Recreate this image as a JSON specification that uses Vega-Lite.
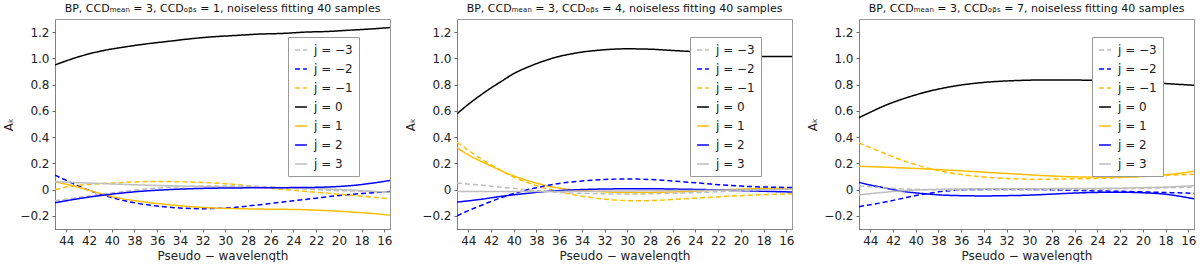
{
"$schema": "https://vega.github.io/schema/vega-lite/v6.json",
"padding": {"left": 2, "top": 2, "right": 4, "bottom": 0},
"spacing": 67,
"bounds": "flush",
"datasets": {
"d": [
{"p":1,"j":"j = 0","x":45,"y":0.95},{"p":1,"j":"j = 0","x":43,"y":1.01},{"p":1,"j":"j = 0","x":41,"y":1.055},{"p":1,"j":"j = 0","x":39,"y":1.085},{"p":1,"j":"j = 0","x":37,"y":1.11},{"p":1,"j":"j = 0","x":35,"y":1.13},{"p":1,"j":"j = 0","x":33,"y":1.15},{"p":1,"j":"j = 0","x":31,"y":1.165},{"p":1,"j":"j = 0","x":29,"y":1.175},{"p":1,"j":"j = 0","x":27,"y":1.185},{"p":1,"j":"j = 0","x":25,"y":1.19},{"p":1,"j":"j = 0","x":23,"y":1.2},{"p":1,"j":"j = 0","x":21,"y":1.205},{"p":1,"j":"j = 0","x":19,"y":1.215},{"p":1,"j":"j = 0","x":17,"y":1.225},{"p":1,"j":"j = 0","x":15.5,"y":1.235},
{"p":1,"j":"j = −2","x":45,"y":0.11},{"p":1,"j":"j = −2","x":44,"y":0.07},{"p":1,"j":"j = −2","x":43,"y":0.03},{"p":1,"j":"j = −2","x":42,"y":-0.005},{"p":1,"j":"j = −2","x":41,"y":-0.035},{"p":1,"j":"j = −2","x":40,"y":-0.06},{"p":1,"j":"j = −2","x":38,"y":-0.1},{"p":1,"j":"j = −2","x":36,"y":-0.125},{"p":1,"j":"j = −2","x":34,"y":-0.14},{"p":1,"j":"j = −2","x":32,"y":-0.145},{"p":1,"j":"j = −2","x":30,"y":-0.14},{"p":1,"j":"j = −2","x":28,"y":-0.125},{"p":1,"j":"j = −2","x":26,"y":-0.105},{"p":1,"j":"j = −2","x":24,"y":-0.085},{"p":1,"j":"j = −2","x":22,"y":-0.065},{"p":1,"j":"j = −2","x":20,"y":-0.045},{"p":1,"j":"j = −2","x":18,"y":-0.03},{"p":1,"j":"j = −2","x":15.5,"y":-0.015},
{"p":1,"j":"j = 1","x":45,"y":0.06},{"p":1,"j":"j = 1","x":43,"y":0.02},{"p":1,"j":"j = 1","x":41,"y":-0.03},{"p":1,"j":"j = 1","x":39,"y":-0.07},{"p":1,"j":"j = 1","x":37,"y":-0.095},{"p":1,"j":"j = 1","x":35,"y":-0.115},{"p":1,"j":"j = 1","x":33,"y":-0.13},{"p":1,"j":"j = 1","x":31,"y":-0.14},{"p":1,"j":"j = 1","x":29,"y":-0.145},{"p":1,"j":"j = 1","x":27,"y":-0.148},{"p":1,"j":"j = 1","x":25,"y":-0.15},{"p":1,"j":"j = 1","x":23,"y":-0.153},{"p":1,"j":"j = 1","x":21,"y":-0.16},{"p":1,"j":"j = 1","x":19,"y":-0.17},{"p":1,"j":"j = 1","x":17,"y":-0.182},{"p":1,"j":"j = 1","x":15.5,"y":-0.195},
{"p":1,"j":"j = −1","x":45,"y":0.0},{"p":1,"j":"j = −1","x":44,"y":0.02},{"p":1,"j":"j = −1","x":42,"y":0.04},{"p":1,"j":"j = −1","x":40,"y":0.05},{"p":1,"j":"j = −1","x":38,"y":0.058},{"p":1,"j":"j = −1","x":36,"y":0.062},{"p":1,"j":"j = −1","x":34,"y":0.06},{"p":1,"j":"j = −1","x":32,"y":0.055},{"p":1,"j":"j = −1","x":30,"y":0.045},{"p":1,"j":"j = −1","x":28,"y":0.03},{"p":1,"j":"j = −1","x":26,"y":0.01},{"p":1,"j":"j = −1","x":24,"y":-0.005},{"p":1,"j":"j = −1","x":22,"y":-0.02},{"p":1,"j":"j = −1","x":20,"y":-0.035},{"p":1,"j":"j = −1","x":18,"y":-0.05},{"p":1,"j":"j = −1","x":15.5,"y":-0.07},
{"p":1,"j":"j = −3","x":45,"y":-0.085},{"p":1,"j":"j = −3","x":43,"y":-0.06},{"p":1,"j":"j = −3","x":41,"y":-0.035},{"p":1,"j":"j = −3","x":39,"y":-0.015},{"p":1,"j":"j = −3","x":37,"y":0.005},{"p":1,"j":"j = −3","x":35,"y":0.018},{"p":1,"j":"j = −3","x":33,"y":0.025},{"p":1,"j":"j = −3","x":31,"y":0.028},{"p":1,"j":"j = −3","x":29,"y":0.028},{"p":1,"j":"j = −3","x":27,"y":0.025},{"p":1,"j":"j = −3","x":25,"y":0.015},{"p":1,"j":"j = −3","x":23,"y":0.005},{"p":1,"j":"j = −3","x":21,"y":-0.005},{"p":1,"j":"j = −3","x":19,"y":-0.01},{"p":1,"j":"j = −3","x":17,"y":-0.015},{"p":1,"j":"j = −3","x":15.5,"y":-0.02},
{"p":1,"j":"j = 3","x":45,"y":0.06},{"p":1,"j":"j = 3","x":42,"y":0.05},{"p":1,"j":"j = 3","x":39,"y":0.04},{"p":1,"j":"j = 3","x":36,"y":0.032},{"p":1,"j":"j = 3","x":33,"y":0.025},{"p":1,"j":"j = 3","x":30,"y":0.02},{"p":1,"j":"j = 3","x":27,"y":0.017},{"p":1,"j":"j = 3","x":24,"y":0.013},{"p":1,"j":"j = 3","x":21,"y":0.005},{"p":1,"j":"j = 3","x":18,"y":-0.008},{"p":1,"j":"j = 3","x":15.5,"y":-0.02},
{"p":1,"j":"j = 2","x":45,"y":-0.1},{"p":1,"j":"j = 2","x":43,"y":-0.07},{"p":1,"j":"j = 2","x":41,"y":-0.045},{"p":1,"j":"j = 2","x":39,"y":-0.025},{"p":1,"j":"j = 2","x":37,"y":-0.01},{"p":1,"j":"j = 2","x":35,"y":0.0},{"p":1,"j":"j = 2","x":33,"y":0.007},{"p":1,"j":"j = 2","x":31,"y":0.011},{"p":1,"j":"j = 2","x":29,"y":0.013},{"p":1,"j":"j = 2","x":27,"y":0.014},{"p":1,"j":"j = 2","x":25,"y":0.015},{"p":1,"j":"j = 2","x":23,"y":0.016},{"p":1,"j":"j = 2","x":21,"y":0.02},{"p":1,"j":"j = 2","x":19,"y":0.03},{"p":1,"j":"j = 2","x":17,"y":0.05},{"p":1,"j":"j = 2","x":15.5,"y":0.07},

{"p":2,"j":"j = 0","x":45,"y":0.578},{"p":2,"j":"j = 0","x":44,"y":0.65},{"p":2,"j":"j = 0","x":43,"y":0.715},{"p":2,"j":"j = 0","x":42,"y":0.775},{"p":2,"j":"j = 0","x":41,"y":0.83},{"p":2,"j":"j = 0","x":40,"y":0.884},{"p":2,"j":"j = 0","x":39,"y":0.925},{"p":2,"j":"j = 0","x":38,"y":0.96},{"p":2,"j":"j = 0","x":37,"y":0.99},{"p":2,"j":"j = 0","x":36,"y":1.015},{"p":2,"j":"j = 0","x":35,"y":1.033},{"p":2,"j":"j = 0","x":34,"y":1.048},{"p":2,"j":"j = 0","x":33,"y":1.058},{"p":2,"j":"j = 0","x":32,"y":1.066},{"p":2,"j":"j = 0","x":31,"y":1.071},{"p":2,"j":"j = 0","x":30,"y":1.073},{"p":2,"j":"j = 0","x":29,"y":1.072},{"p":2,"j":"j = 0","x":28,"y":1.07},{"p":2,"j":"j = 0","x":26,"y":1.06},{"p":2,"j":"j = 0","x":24,"y":1.05},{"p":2,"j":"j = 0","x":22,"y":1.035},{"p":2,"j":"j = 0","x":20,"y":1.023},{"p":2,"j":"j = 0","x":18,"y":1.015},{"p":2,"j":"j = 0","x":15.5,"y":1.015},
{"p":2,"j":"j = 1","x":45,"y":0.32},{"p":2,"j":"j = 1","x":44,"y":0.265},{"p":2,"j":"j = 1","x":43,"y":0.22},{"p":2,"j":"j = 1","x":42,"y":0.18},{"p":2,"j":"j = 1","x":41,"y":0.14},{"p":2,"j":"j = 1","x":40,"y":0.105},{"p":2,"j":"j = 1","x":39,"y":0.075},{"p":2,"j":"j = 1","x":38,"y":0.05},{"p":2,"j":"j = 1","x":37,"y":0.028},{"p":2,"j":"j = 1","x":36,"y":0.012},{"p":2,"j":"j = 1","x":35,"y":0.0},{"p":2,"j":"j = 1","x":33,"y":-0.012},{"p":2,"j":"j = 1","x":31,"y":-0.02},{"p":2,"j":"j = 1","x":29,"y":-0.022},{"p":2,"j":"j = 1","x":27,"y":-0.02},{"p":2,"j":"j = 1","x":25,"y":-0.015},{"p":2,"j":"j = 1","x":23,"y":-0.008},{"p":2,"j":"j = 1","x":21,"y":0.0},{"p":2,"j":"j = 1","x":19,"y":0.006},{"p":2,"j":"j = 1","x":17,"y":0.01},{"p":2,"j":"j = 1","x":15.5,"y":0.012},
{"p":2,"j":"j = −1","x":45,"y":0.36},{"p":2,"j":"j = −1","x":44,"y":0.3},{"p":2,"j":"j = −1","x":43,"y":0.24},{"p":2,"j":"j = −1","x":42,"y":0.19},{"p":2,"j":"j = −1","x":41,"y":0.14},{"p":2,"j":"j = −1","x":40,"y":0.095},{"p":2,"j":"j = −1","x":39,"y":0.06},{"p":2,"j":"j = −1","x":38,"y":0.03},{"p":2,"j":"j = −1","x":37,"y":0.005},{"p":2,"j":"j = −1","x":36,"y":-0.015},{"p":2,"j":"j = −1","x":35,"y":-0.035},{"p":2,"j":"j = −1","x":34,"y":-0.05},{"p":2,"j":"j = −1","x":33,"y":-0.062},{"p":2,"j":"j = −1","x":32,"y":-0.072},{"p":2,"j":"j = −1","x":31,"y":-0.08},{"p":2,"j":"j = −1","x":30,"y":-0.084},{"p":2,"j":"j = −1","x":29,"y":-0.085},{"p":2,"j":"j = −1","x":28,"y":-0.084},{"p":2,"j":"j = −1","x":27,"y":-0.08},{"p":2,"j":"j = −1","x":26,"y":-0.075},{"p":2,"j":"j = −1","x":25,"y":-0.07},{"p":2,"j":"j = −1","x":23,"y":-0.06},{"p":2,"j":"j = −1","x":21,"y":-0.05},{"p":2,"j":"j = −1","x":19,"y":-0.042},{"p":2,"j":"j = −1","x":17,"y":-0.036},{"p":2,"j":"j = −1","x":15.5,"y":-0.033},
{"p":2,"j":"j = −2","x":45,"y":-0.2},{"p":2,"j":"j = −2","x":44,"y":-0.16},{"p":2,"j":"j = −2","x":43,"y":-0.125},{"p":2,"j":"j = −2","x":42,"y":-0.09},{"p":2,"j":"j = −2","x":41,"y":-0.058},{"p":2,"j":"j = −2","x":40,"y":-0.03},{"p":2,"j":"j = −2","x":39,"y":-0.005},{"p":2,"j":"j = −2","x":38,"y":0.015},{"p":2,"j":"j = −2","x":37,"y":0.033},{"p":2,"j":"j = −2","x":36,"y":0.047},{"p":2,"j":"j = −2","x":35,"y":0.058},{"p":2,"j":"j = −2","x":34,"y":0.066},{"p":2,"j":"j = −2","x":33,"y":0.072},{"p":2,"j":"j = −2","x":32,"y":0.077},{"p":2,"j":"j = −2","x":31,"y":0.08},{"p":2,"j":"j = −2","x":30,"y":0.081},{"p":2,"j":"j = −2","x":29,"y":0.08},{"p":2,"j":"j = −2","x":28,"y":0.077},{"p":2,"j":"j = −2","x":27,"y":0.072},{"p":2,"j":"j = −2","x":26,"y":0.066},{"p":2,"j":"j = −2","x":25,"y":0.059},{"p":2,"j":"j = −2","x":24,"y":0.052},{"p":2,"j":"j = −2","x":23,"y":0.045},{"p":2,"j":"j = −2","x":22,"y":0.038},{"p":2,"j":"j = −2","x":21,"y":0.032},{"p":2,"j":"j = −2","x":20,"y":0.027},{"p":2,"j":"j = −2","x":19,"y":0.023},{"p":2,"j":"j = −2","x":18,"y":0.02},{"p":2,"j":"j = −2","x":17,"y":0.018},{"p":2,"j":"j = −2","x":15.5,"y":0.016},
{"p":2,"j":"j = 2","x":45,"y":-0.095},{"p":2,"j":"j = 2","x":43,"y":-0.075},{"p":2,"j":"j = 2","x":41,"y":-0.05},{"p":2,"j":"j = 2","x":39,"y":-0.03},{"p":2,"j":"j = 2","x":37,"y":-0.013},{"p":2,"j":"j = 2","x":35,"y":-0.003},{"p":2,"j":"j = 2","x":33,"y":0.003},{"p":2,"j":"j = 2","x":31,"y":0.006},{"p":2,"j":"j = 2","x":29,"y":0.007},{"p":2,"j":"j = 2","x":27,"y":0.006},{"p":2,"j":"j = 2","x":25,"y":0.003},{"p":2,"j":"j = 2","x":23,"y":0.0},{"p":2,"j":"j = 2","x":21,"y":-0.005},{"p":2,"j":"j = 2","x":19,"y":-0.01},{"p":2,"j":"j = 2","x":17,"y":-0.015},{"p":2,"j":"j = 2","x":15.5,"y":-0.018},
{"p":2,"j":"j = −3","x":45,"y":0.05},{"p":2,"j":"j = −3","x":43,"y":0.035},{"p":2,"j":"j = −3","x":41,"y":0.018},{"p":2,"j":"j = −3","x":39,"y":0.0},{"p":2,"j":"j = −3","x":37,"y":-0.015},{"p":2,"j":"j = −3","x":35,"y":-0.025},{"p":2,"j":"j = −3","x":33,"y":-0.03},{"p":2,"j":"j = −3","x":31,"y":-0.033},{"p":2,"j":"j = −3","x":29,"y":-0.033},{"p":2,"j":"j = −3","x":27,"y":-0.03},{"p":2,"j":"j = −3","x":25,"y":-0.025},{"p":2,"j":"j = −3","x":23,"y":-0.02},{"p":2,"j":"j = −3","x":21,"y":-0.013},{"p":2,"j":"j = −3","x":19,"y":-0.005},{"p":2,"j":"j = −3","x":17,"y":0.0},{"p":2,"j":"j = −3","x":15.5,"y":0.004},
{"p":2,"j":"j = 3","x":45,"y":-0.015},{"p":2,"j":"j = 3","x":40,"y":-0.015},{"p":2,"j":"j = 3","x":35,"y":-0.013},{"p":2,"j":"j = 3","x":30,"y":-0.01},{"p":2,"j":"j = 3","x":25,"y":-0.007},{"p":2,"j":"j = 3","x":20,"y":-0.003},{"p":2,"j":"j = 3","x":15.5,"y":0.003},

{"p":3,"j":"j = 0","x":45,"y":0.548},{"p":3,"j":"j = 0","x":44,"y":0.59},{"p":3,"j":"j = 0","x":43,"y":0.63},{"p":3,"j":"j = 0","x":42,"y":0.665},{"p":3,"j":"j = 0","x":41,"y":0.695},{"p":3,"j":"j = 0","x":40,"y":0.722},{"p":3,"j":"j = 0","x":39,"y":0.746},{"p":3,"j":"j = 0","x":38,"y":0.766},{"p":3,"j":"j = 0","x":37,"y":0.783},{"p":3,"j":"j = 0","x":36,"y":0.797},{"p":3,"j":"j = 0","x":35,"y":0.808},{"p":3,"j":"j = 0","x":34,"y":0.817},{"p":3,"j":"j = 0","x":32,"y":0.828},{"p":3,"j":"j = 0","x":30,"y":0.834},{"p":3,"j":"j = 0","x":28,"y":0.836},{"p":3,"j":"j = 0","x":26,"y":0.835},{"p":3,"j":"j = 0","x":24,"y":0.832},{"p":3,"j":"j = 0","x":22,"y":0.826},{"p":3,"j":"j = 0","x":20,"y":0.818},{"p":3,"j":"j = 0","x":18,"y":0.808},{"p":3,"j":"j = 0","x":15.5,"y":0.795},
{"p":3,"j":"j = 1","x":45,"y":0.178},{"p":3,"j":"j = 1","x":43,"y":0.172},{"p":3,"j":"j = 1","x":41,"y":0.165},{"p":3,"j":"j = 1","x":39,"y":0.157},{"p":3,"j":"j = 1","x":37,"y":0.148},{"p":3,"j":"j = 1","x":35,"y":0.138},{"p":3,"j":"j = 1","x":33,"y":0.128},{"p":3,"j":"j = 1","x":31,"y":0.118},{"p":3,"j":"j = 1","x":29,"y":0.108},{"p":3,"j":"j = 1","x":27,"y":0.1},{"p":3,"j":"j = 1","x":25,"y":0.096},{"p":3,"j":"j = 1","x":23,"y":0.095},{"p":3,"j":"j = 1","x":21,"y":0.098},{"p":3,"j":"j = 1","x":19,"y":0.107},{"p":3,"j":"j = 1","x":17,"y":0.122},{"p":3,"j":"j = 1","x":15.5,"y":0.14},
{"p":3,"j":"j = −1","x":45,"y":0.355},{"p":3,"j":"j = −1","x":44,"y":0.32},{"p":3,"j":"j = −1","x":43,"y":0.285},{"p":3,"j":"j = −1","x":42,"y":0.25},{"p":3,"j":"j = −1","x":41,"y":0.218},{"p":3,"j":"j = −1","x":40,"y":0.19},{"p":3,"j":"j = −1","x":39,"y":0.165},{"p":3,"j":"j = −1","x":38,"y":0.145},{"p":3,"j":"j = −1","x":37,"y":0.128},{"p":3,"j":"j = −1","x":36,"y":0.115},{"p":3,"j":"j = −1","x":35,"y":0.104},{"p":3,"j":"j = −1","x":34,"y":0.096},{"p":3,"j":"j = −1","x":33,"y":0.09},{"p":3,"j":"j = −1","x":32,"y":0.085},{"p":3,"j":"j = −1","x":31,"y":0.082},{"p":3,"j":"j = −1","x":30,"y":0.08},{"p":3,"j":"j = −1","x":28,"y":0.08},{"p":3,"j":"j = −1","x":26,"y":0.082},{"p":3,"j":"j = −1","x":24,"y":0.086},{"p":3,"j":"j = −1","x":22,"y":0.092},{"p":3,"j":"j = −1","x":20,"y":0.1},{"p":3,"j":"j = −1","x":18,"y":0.108},{"p":3,"j":"j = −1","x":15.5,"y":0.118},
{"p":3,"j":"j = 2","x":45,"y":0.055},{"p":3,"j":"j = 2","x":44,"y":0.035},{"p":3,"j":"j = 2","x":43,"y":0.018},{"p":3,"j":"j = 2","x":42,"y":0.0},{"p":3,"j":"j = 2","x":41,"y":-0.015},{"p":3,"j":"j = 2","x":40,"y":-0.025},{"p":3,"j":"j = 2","x":39,"y":-0.033},{"p":3,"j":"j = 2","x":38,"y":-0.04},{"p":3,"j":"j = 2","x":36,"y":-0.046},{"p":3,"j":"j = 2","x":34,"y":-0.048},{"p":3,"j":"j = 2","x":32,"y":-0.046},{"p":3,"j":"j = 2","x":30,"y":-0.042},{"p":3,"j":"j = 2","x":28,"y":-0.034},{"p":3,"j":"j = 2","x":26,"y":-0.026},{"p":3,"j":"j = 2","x":24,"y":-0.021},{"p":3,"j":"j = 2","x":22,"y":-0.02},{"p":3,"j":"j = 2","x":20,"y":-0.024},{"p":3,"j":"j = 2","x":18,"y":-0.035},{"p":3,"j":"j = 2","x":17,"y":-0.047},{"p":3,"j":"j = 2","x":15.5,"y":-0.07},
{"p":3,"j":"j = −2","x":45,"y":-0.13},{"p":3,"j":"j = −2","x":44,"y":-0.115},{"p":3,"j":"j = −2","x":43,"y":-0.1},{"p":3,"j":"j = −2","x":42,"y":-0.082},{"p":3,"j":"j = −2","x":41,"y":-0.063},{"p":3,"j":"j = −2","x":40,"y":-0.045},{"p":3,"j":"j = −2","x":39,"y":-0.03},{"p":3,"j":"j = −2","x":38,"y":-0.017},{"p":3,"j":"j = −2","x":37,"y":-0.008},{"p":3,"j":"j = −2","x":36,"y":-0.002},{"p":3,"j":"j = −2","x":34,"y":0.002},{"p":3,"j":"j = −2","x":32,"y":0.003},{"p":3,"j":"j = −2","x":30,"y":0.002},{"p":3,"j":"j = −2","x":28,"y":-0.002},{"p":3,"j":"j = −2","x":26,"y":-0.006},{"p":3,"j":"j = −2","x":24,"y":-0.01},{"p":3,"j":"j = −2","x":22,"y":-0.013},{"p":3,"j":"j = −2","x":20,"y":-0.017},{"p":3,"j":"j = −2","x":18,"y":-0.022},{"p":3,"j":"j = −2","x":15.5,"y":-0.028},
{"p":3,"j":"j = −3","x":45,"y":0.03},{"p":3,"j":"j = −3","x":43,"y":0.015},{"p":3,"j":"j = −3","x":41,"y":0.005},{"p":3,"j":"j = −3","x":39,"y":0.0},{"p":3,"j":"j = −3","x":35,"y":-0.003},{"p":3,"j":"j = −3","x":31,"y":-0.003},{"p":3,"j":"j = −3","x":27,"y":0.0},{"p":3,"j":"j = −3","x":23,"y":0.005},{"p":3,"j":"j = −3","x":19,"y":0.012},{"p":3,"j":"j = −3","x":15.5,"y":0.02},
{"p":3,"j":"j = 3","x":45,"y":-0.04},{"p":3,"j":"j = 3","x":43,"y":-0.022},{"p":3,"j":"j = 3","x":41,"y":-0.008},{"p":3,"j":"j = 3","x":39,"y":0.0},{"p":3,"j":"j = 3","x":37,"y":0.004},{"p":3,"j":"j = 3","x":35,"y":0.006},{"p":3,"j":"j = 3","x":31,"y":0.007},{"p":3,"j":"j = 3","x":27,"y":0.008},{"p":3,"j":"j = 3","x":23,"y":0.01},{"p":3,"j":"j = 3","x":19,"y":0.017},{"p":3,"j":"j = 3","x":17,"y":0.023},{"p":3,"j":"j = 3","x":15.5,"y":0.03}
]
},
"data": {"name": "d"},
"hconcat": [
{"title": "BP, CCDₘₑₐₙ = 3, CCDₒᵦₛ = 1, noiseless fitting 40 samples",
 "transform": [{"filter": "datum.p == 1"}],
 "width": 335, "height": 210,
 "mark": {"type": "line", "interpolate": "monotone", "strokeWidth": 1.5, "clip": true},
 "encoding": {
  "x": {"field": "x", "type": "quantitative", "scale": {"domain": [45, 15.5], "nice": false, "zero": false}, "axis": {"values": [44,42,40,38,36,34,32,30,28,26,24,22,20,18,16], "title": "Pseudo − wavelength"}},
  "y": {"field": "y", "type": "quantitative", "scale": {"domain": [-0.3, 1.3], "nice": false}, "axis": {"values": [-0.2,0,0.2,0.4,0.6,0.8,1.0,1.2], "labelExpr": "datum.value == 0 ? '0' : format(datum.value, '.1f')", "title": "Aₖ"}},
  "color": {"field": "j", "type": "nominal", "scale": {"domain": ["j = −3","j = −2","j = −1","j = 0","j = 1","j = 2","j = 3"], "range": ["#bdbdbd","#0000ff","#ffbf00","#000000","#ffbf00","#0000ff","#bdbdbd"]}, "legend": {"orient": "none", "legendX": 233, "legendY": 18, "title": null}},
  "strokeDash": {"field": "j", "type": "nominal", "scale": {"domain": ["j = −3","j = −2","j = −1","j = 0","j = 1","j = 2","j = 3"], "range": [[5,3],[5,3],[5,3],[1,0],[1,0],[1,0],[1,0]]}, "legend": {"orient": "none", "legendX": 233, "legendY": 18, "title": null}}
 }},
{"title": "BP, CCDₘₑₐₙ = 3, CCDₒᵦₛ = 4, noiseless fitting 40 samples",
 "transform": [{"filter": "datum.p == 2"}],
 "width": 335, "height": 210,
 "mark": {"type": "line", "interpolate": "monotone", "strokeWidth": 1.5, "clip": true},
 "encoding": {
  "x": {"field": "x", "type": "quantitative", "scale": {"domain": [45, 15.5], "nice": false, "zero": false}, "axis": {"values": [44,42,40,38,36,34,32,30,28,26,24,22,20,18,16], "title": "Pseudo − wavelength"}},
  "y": {"field": "y", "type": "quantitative", "scale": {"domain": [-0.3, 1.3], "nice": false}, "axis": {"values": [-0.2,0,0.2,0.4,0.6,0.8,1.0,1.2], "labelExpr": "datum.value == 0 ? '0' : format(datum.value, '.1f')", "title": "Aₖ"}},
  "color": {"field": "j", "type": "nominal", "scale": {"domain": ["j = −3","j = −2","j = −1","j = 0","j = 1","j = 2","j = 3"], "range": ["#bdbdbd","#0000ff","#ffbf00","#000000","#ffbf00","#0000ff","#bdbdbd"]}, "legend": {"orient": "none", "legendX": 233, "legendY": 18, "title": null}},
  "strokeDash": {"field": "j", "type": "nominal", "scale": {"domain": ["j = −3","j = −2","j = −1","j = 0","j = 1","j = 2","j = 3"], "range": [[5,3],[5,3],[5,3],[1,0],[1,0],[1,0],[1,0]]}, "legend": {"orient": "none", "legendX": 233, "legendY": 18, "title": null}}
 }},
{"title": "BP, CCDₘₑₐₙ = 3, CCDₒᵦₛ = 7, noiseless fitting 40 samples",
 "transform": [{"filter": "datum.p == 3"}],
 "width": 335, "height": 210,
 "mark": {"type": "line", "interpolate": "monotone", "strokeWidth": 1.5, "clip": true},
 "encoding": {
  "x": {"field": "x", "type": "quantitative", "scale": {"domain": [45, 15.5], "nice": false, "zero": false}, "axis": {"values": [44,42,40,38,36,34,32,30,28,26,24,22,20,18,16], "title": "Pseudo − wavelength"}},
  "y": {"field": "y", "type": "quantitative", "scale": {"domain": [-0.3, 1.3], "nice": false}, "axis": {"values": [-0.2,0,0.2,0.4,0.6,0.8,1.0,1.2], "labelExpr": "datum.value == 0 ? '0' : format(datum.value, '.1f')", "title": "Aₖ"}},
  "color": {"field": "j", "type": "nominal", "scale": {"domain": ["j = −3","j = −2","j = −1","j = 0","j = 1","j = 2","j = 3"], "range": ["#bdbdbd","#0000ff","#ffbf00","#000000","#ffbf00","#0000ff","#bdbdbd"]}, "legend": {"orient": "none", "legendX": 233, "legendY": 18, "title": null}},
  "strokeDash": {"field": "j", "type": "nominal", "scale": {"domain": ["j = −3","j = −2","j = −1","j = 0","j = 1","j = 2","j = 3"], "range": [[5,3],[5,3],[5,3],[1,0],[1,0],[1,0],[1,0]]}, "legend": {"orient": "none", "legendX": 233, "legendY": 18, "title": null}}
 }}
],
"resolve": {"legend": {"color": "independent", "strokeDash": "independent"}},
"config": {
 "font": "DejaVu Sans",
 "view": {"stroke": "#999999", "strokeWidth": 1},
 "title": {"fontSize": 11, "fontWeight": "normal", "color": "#111111", "anchor": "middle", "offset": 5},
 "axis": {"grid": false, "labelFontSize": 12, "labelColor": "#222222", "titleFontSize": 12, "titleFontWeight": "normal", "titleColor": "#222222", "domainColor": "#666666", "domainDash": [1, 1], "tickColor": "#666666", "tickSize": 3, "labelPadding": 3},
 "axisY": {"titlePadding": 4},
 "axisX": {"titlePadding": 4},
 "legend": {"strokeColor": "#999999", "fillColor": "#ffffff", "padding": 6, "labelFontSize": 12, "labelColor": "#222222", "symbolType": "stroke", "symbolSize": 140, "symbolStrokeWidth": 1.5, "rowPadding": 6, "labelOffset": 6}
}
}
